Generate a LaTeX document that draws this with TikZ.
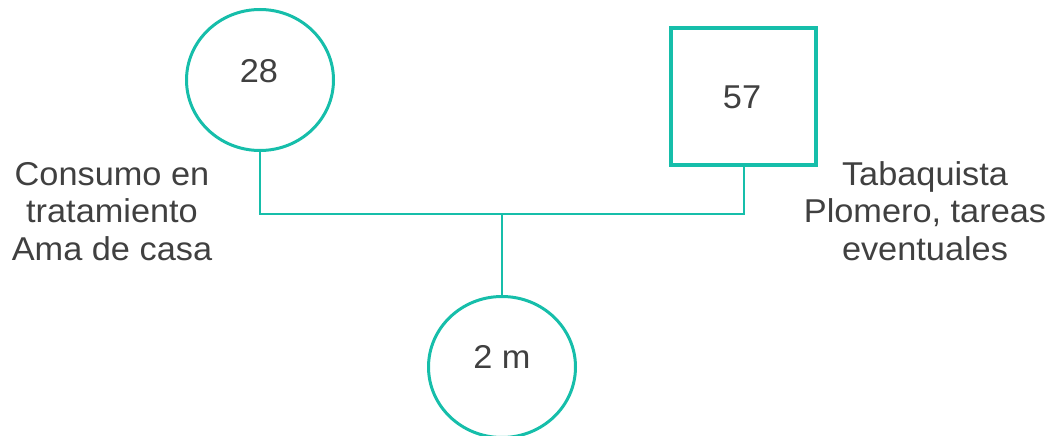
\documentclass[tikz,border=0pt]{standalone}
\usepackage{fontspec}
\setmainfont{Liberation Sans}[FakeStretch=1.04]
\usetikzlibrary{shapes.geometric}
\definecolor{teal1}{RGB}{22,190,170}
\definecolor{txt}{RGB}{64,64,64}
\begin{document}
\begin{tikzpicture}[x=1pt,y=-1pt,
  female/.style={ellipse,draw=teal1,line width=3pt,minimum width=147pt,minimum height=141pt,inner sep=0pt},
  male/.style={rectangle,draw=teal1,line width=4.5pt,minimum width=145pt,minimum height=137pt,inner sep=0pt},
  link/.style={draw=teal1,line width=2pt},
  lbl/.style={text=txt,font=\fontsize{33}{37.5}\selectfont,anchor=base,inner sep=0pt}]
\useasboundingbox (0,0) rectangle (1053,436);
% shapes
\node[female] (mom) at (260,80) {};
\node[male] (dad) at (743.5,96.5) {};
\node[female] (kid) at (502,367) {};
% connectors
\coordinate (j) at (502,214);
\draw[link] (mom.south) |- (j) -| (dad.south);
\draw[link] (j) -- (kid.north);
% labels inside
\node[lbl] (t28) at (259,83) {28};
\node[lbl] (t57) at (742,109) {57};
\node[lbl] (t2m) at (502,368) {2 m};
% side texts
\node[lbl] (l1) at (112,185) {Consumo en};
\node[lbl] (l2) at (112,222.5) {tratamiento};
\node[lbl] (l3) at (112,260) {Ama de casa};
\node[lbl] (r1) at (925,185) {Tabaquista};
\node[lbl] (r2) at (925,222.5) {Plomero, tareas};
\node[lbl] (r3) at (925,260) {eventuales};
\end{tikzpicture}
\end{document}
